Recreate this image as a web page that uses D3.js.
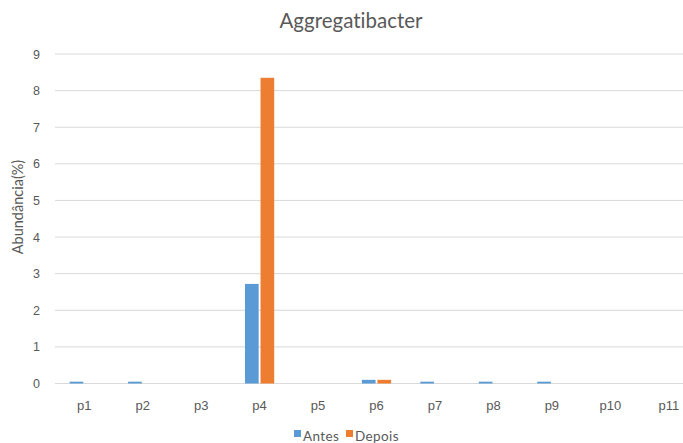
<!DOCTYPE html>
<html>
<head>
<meta charset="utf-8">
<script src="https://cdn.jsdelivr.net/npm/d3@7/dist/d3.min.js"></script>
<style>
  html, body { margin: 0; padding: 0; background: #fff; }
  svg { display: block; font-family: Lato, "Open Sans", sans-serif; font-variant-ligatures: none; }
</style>
</head>
<body>
<svg id="chart" width="683" height="443"></svg>
<script>
const categories = ["p1","p2","p3","p4","p5","p6","p7","p8","p9","p10","p11"];
const seriesNames = ["Antes", "Depois"];
const antes  = [0.05, 0.05, 0, 2.72, 0, 0.1, 0.05, 0.05, 0.05, 0, 0];
const depois = [0, 0, 0, 8.35, 0, 0.1, 0, 0, 0, 0, 0];
const yTicks = [0,1,2,3,4,5,6,7,8,9];
const colors = ["#5B9BD5", "#ED7D31"];

const svg = d3.select("#chart");
const plot = { left: 55, right: 698, top: 54, bottom: 383.5 };

const x = d3.scaleBand().domain(categories).range([plot.left, plot.right]).paddingInner(0.5).paddingOuter(0.25);
const x1 = d3.scaleBand().domain(seriesNames).range([0, x.bandwidth()]).paddingInner(0.12);
const y = d3.scaleLinear().domain([0, 9]).range([plot.bottom, plot.top]);

const g = svg.append("g");

// horizontal gridlines
g.selectAll("line.grid").data(yTicks).join("line")
  .attr("class", "grid")
  .attr("x1", plot.left).attr("x2", plot.right)
  .attr("y1", d => y(d)).attr("y2", d => y(d))
  .attr("stroke", "#D9D9D9").attr("stroke-width", 1);

// y axis labels
const yAxis = d3.axisLeft(y).tickValues(yTicks).tickSize(0).tickPadding(0).tickFormat(d3.format("d"));
const yg = svg.append("g").attr("transform", `translate(${plot.left - 15},0)`).call(yAxis);
yg.select(".domain").remove();
yg.selectAll("text").attr("fill", "#595959").style("font-size", "12.5px");

// x axis labels
const xAxis = d3.axisBottom(x).tickSize(0).tickPadding(0);
const xg = svg.append("g").attr("transform", `translate(0,${plot.bottom + 17})`).call(xAxis);
xg.select(".domain").remove();
xg.selectAll("text").attr("fill", "#595959").style("font-size", "13px");

// bars
const rows = categories.map((c, i) => ({ cat: c, vals: [antes[i], depois[i]] }));
const groups = g.selectAll("g.cat").data(rows).join("g")
  .attr("class", "cat")
  .attr("transform", d => `translate(${x(d.cat)},0)`);
groups.selectAll("rect").data(d => d.vals.map((v, k) => ({ name: seriesNames[k], v, k })))
  .join("rect")
  .attr("x", d => x1(d.name))
  .attr("width", x1.bandwidth())
  .attr("y", d => y(d.v))
  .attr("height", d => y(0) - y(d.v))
  .attr("fill", d => colors[d.k]);

// title
svg.append("text")
  .attr("x", 351).attr("y", 28)
  .attr("text-anchor", "middle")
  .attr("fill", "#595959")
  .style("font-size", "20.5px")
  .text("Aggregatibacter");

// y axis title
svg.append("text")
  .attr("transform", `translate(23,207) rotate(-90)`)
  .attr("text-anchor", "middle")
  .attr("fill", "#595959")
  .style("font-size", "14.5px")
  .text("Abundância(%)");

// legend
const legend = svg.append("g").attr("transform", "translate(294,430)");
const items = [{ name: "Antes", dx: 0 }, { name: "Depois", dx: 52 }];
items.forEach((it, k) => {
  legend.append("rect").attr("x", it.dx).attr("y", 0).attr("width", 7).attr("height", 7).attr("fill", colors[k]);
  legend.append("text").attr("x", it.dx + 9).attr("y", 11).attr("fill", "#595959")
    .style("font-size", "13.5px").style("letter-spacing", "0.4px").text(it.name);
});
</script>
</body>
</html>
